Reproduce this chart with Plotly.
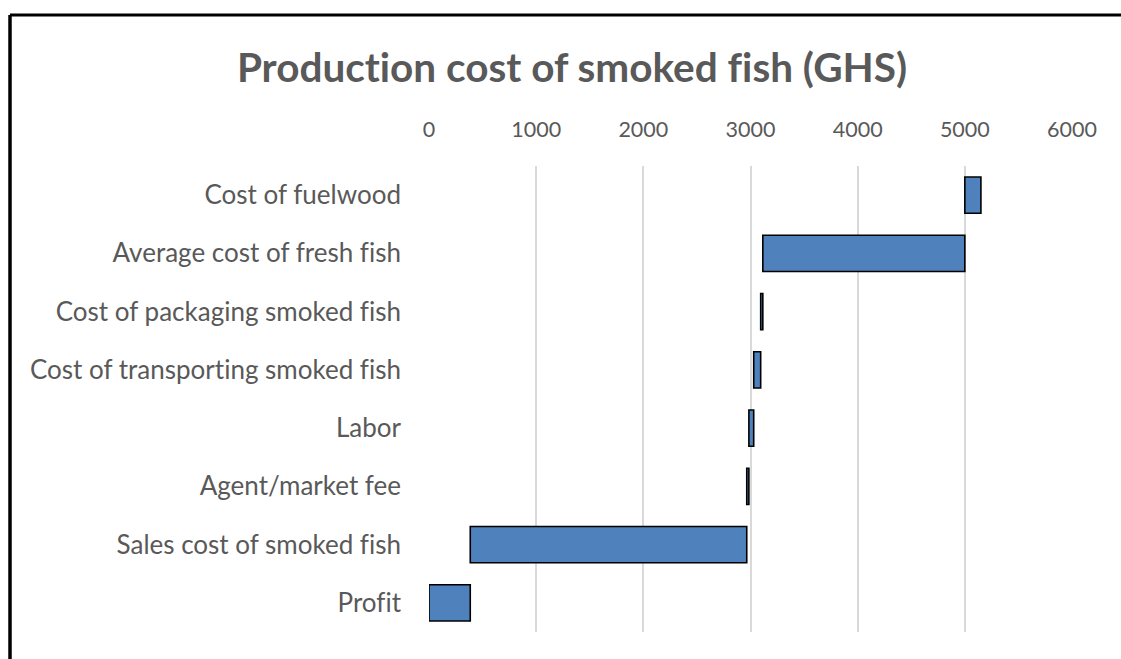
import plotly.graph_objects as go

# Data, listed top to bottom
categories = [
    "Cost of fuelwood",
    "Average cost of fresh fish",
    "Cost of packaging smoked fish",
    "Cost of transporting smoked fish",
    "Labor",
    "Agent/market fee",
    "Sales cost of smoked fish",
    "Profit",
]
bar_start = [5000, 3115, 3095, 3030, 2985, 2965, 385, 0]
bar_amount = [150, 1885, 20, 65, 45, 20, 2580, 385]
x_ticks = [0, 1000, 2000, 3000, 4000, 5000, 6000]

W, H = 1121, 659
L, R, T, B = 429, 49, 166, 27

fig = go.Figure()
fig.add_trace(go.Bar(
    y=categories,
    x=bar_amount,
    base=bar_start,
    orientation="h",
    width=0.62,
    marker=dict(color="#4F81BD", line=dict(color="#000000", width=1.6)),
    hoverinfo="x+y",
))

gray = "#595959"
FONT = "Lato, Carlito, Calibri, sans-serif"
fig.update_layout(
    width=W, height=H,
    margin=dict(l=L, r=R, t=T, b=B, autoexpand=False),
    paper_bgcolor="white",
    plot_bgcolor="white",
    showlegend=False,
    font=dict(family=FONT, color=gray),
    title=dict(
        text="<b>Production cost of smoked fish (GHS)</b>",
        x=572 / W, xref="container", xanchor="center",
        y=1 - 68 / H, yref="container", yanchor="middle",
        font=dict(size=40.5, color=gray, family=FONT),
    ),
    xaxis=dict(
        side="top",
        range=[0, 6000],
        tickvals=x_ticks,
        ticktext=[str(v) for v in x_ticks],
        showgrid=True,
        gridcolor="#D9D9D9",
        gridwidth=1.5,
        zeroline=False,
        showline=False,
        ticks="",
        ticklabelstandoff=24,
        tickfont=dict(size=21.5, color=gray),
        fixedrange=True,
    ),
    yaxis=dict(
        autorange="reversed",
        showgrid=False,
        zeroline=False,
        showline=False,
        ticks="",
        ticklabelstandoff=27,
        tickfont=dict(size=26, color=gray),
        fixedrange=True,
    ),
)

# Outer frame lines (top and left edges of the cropped chart border)
pw, ph = W - L - R, H - T - B
px = lambda v: (v - L) / pw
py = lambda v: (H - B - v) / ph
fig.add_shape(type="line", xref="paper", yref="paper",
              x0=px(10), x1=px(W + 5), y0=py(15), y1=py(15),
              line=dict(color="#000000", width=3))
fig.add_shape(type="line", xref="paper", yref="paper",
              x0=px(10), x1=px(10), y0=py(15), y1=py(H + 5),
              line=dict(color="#000000", width=3.5))

post = (
    "document.body.style.margin='0';"
    "var s=document.createElement('style');"
    "s.textContent='text{font-variant-ligatures:none !important;"
    "font-feature-settings:\"liga\" 0, \"clig\" 0 !important;}';"
    "document.head.appendChild(s);"
)
fig.write_html("out.html", post_script=post, config={"displayModeBar": False})
